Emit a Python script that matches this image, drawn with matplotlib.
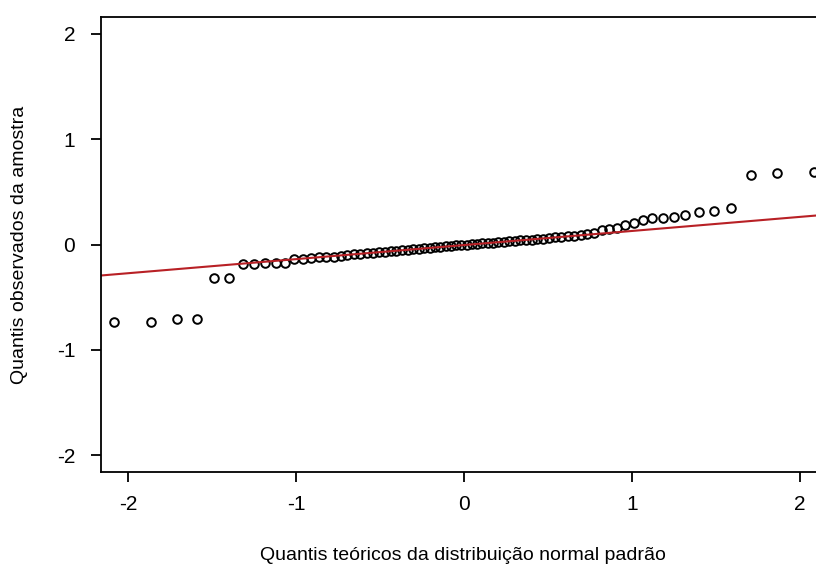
from statistics import NormalDist

import numpy as np
from matplotlib import pyplot as plt

plt.rcParams['font.family'] = ['Liberation Sans', 'DejaVu Sans']

# sorted sample values (n = 80, first and last fall outside xlim)
amostra = [
    -0.76, -0.74, -0.74, -0.705, -0.705, -0.32, -0.32,
    -0.184, -0.184, -0.18, -0.18, -0.18,
    -0.137, -0.137, -0.131, -0.121, -0.121,
    -0.118, -0.112, -0.100, -0.094, -0.090, -0.084, -0.080, -0.075,
    -0.068, -0.064, -0.058, -0.052, -0.050, -0.043, -0.040, -0.035,
    -0.030, -0.026, -0.022, -0.016, -0.012, -0.008, -0.004,
    0.000, 0.004, 0.008, 0.012, 0.015, 0.018, 0.022, 0.026, 0.030,
    0.034, 0.038, 0.042, 0.047, 0.052, 0.056, 0.062, 0.067, 0.072,
    0.078, 0.084, 0.088,
    0.102, 0.111, 0.133, 0.149, 0.159, 0.181, 0.203, 0.229, 0.251,
    0.251, 0.260, 0.276, 0.305, 0.314, 0.346, 0.664, 0.679, 0.689, 0.72,
]

x_ticks = [-2, -1, 0, 1, 2]
y_ticks = [-2, -1, 0, 1, 2]

xlabel = 'Quantis teóricos da distribuição normal padrão'
ylabel = 'Quantis observados da amostra'


def teoricos(n):
    """theoretical normal quantiles, like R's qnorm(ppoints(n))"""
    nd = NormalDist()
    return np.array([nd.inv_cdf((i - 0.5) / n) for i in range(1, n + 1)])


y = np.sort(np.array(amostra))
x = teoricos(len(y))

# qqline: line through the first and third quartiles
q1, q3 = np.quantile(y, [0.25, 0.75])
z1, z3 = NormalDist().inv_cdf(0.25), NormalDist().inv_cdf(0.75)
slope = (q3 - q1) / (z3 - z1)
inter = q1 - slope * z1

fig = plt.figure(figsize=(8.16, 5.66), dpi=100)
ax = fig.add_axes([101 / 816, 94 / 566, 726 / 816, 455 / 566])

ax.plot(x, y, linestyle='none', marker='o', markersize=6.2,
        markerfacecolor='none', markeredgecolor='black', markeredgewidth=1.4)
xl = np.array([-3, 3])
ax.plot(xl, inter + slope * xl, color='#b82025', linewidth=1.5)

ax.set_xlim(-2.16, 2.16)
ax.set_ylim(-2.16, 2.16)
ax.set_xticks(x_ticks)
ax.set_yticks(y_ticks)
ax.set_xticklabels([str(t) for t in x_ticks])
ax.set_yticklabels([str(t) for t in y_ticks])
ax.tick_params(direction='out', length=7.5, width=1.3, labelsize=15)
ax.tick_params(axis='x', pad=9)
ax.tick_params(axis='y', pad=11)
for s in ax.spines.values():
    s.set_linewidth(1.3)

ax.set_xlabel(xlabel, fontsize=14, va='center')
ax.set_ylabel(ylabel, fontsize=14, va='center')
ax.xaxis.set_label_coords(362 / 726, -83 / 455)
ax.yaxis.set_label_coords(-81 / 726, 0.5)

fig.savefig('out.png', dpi=100)
